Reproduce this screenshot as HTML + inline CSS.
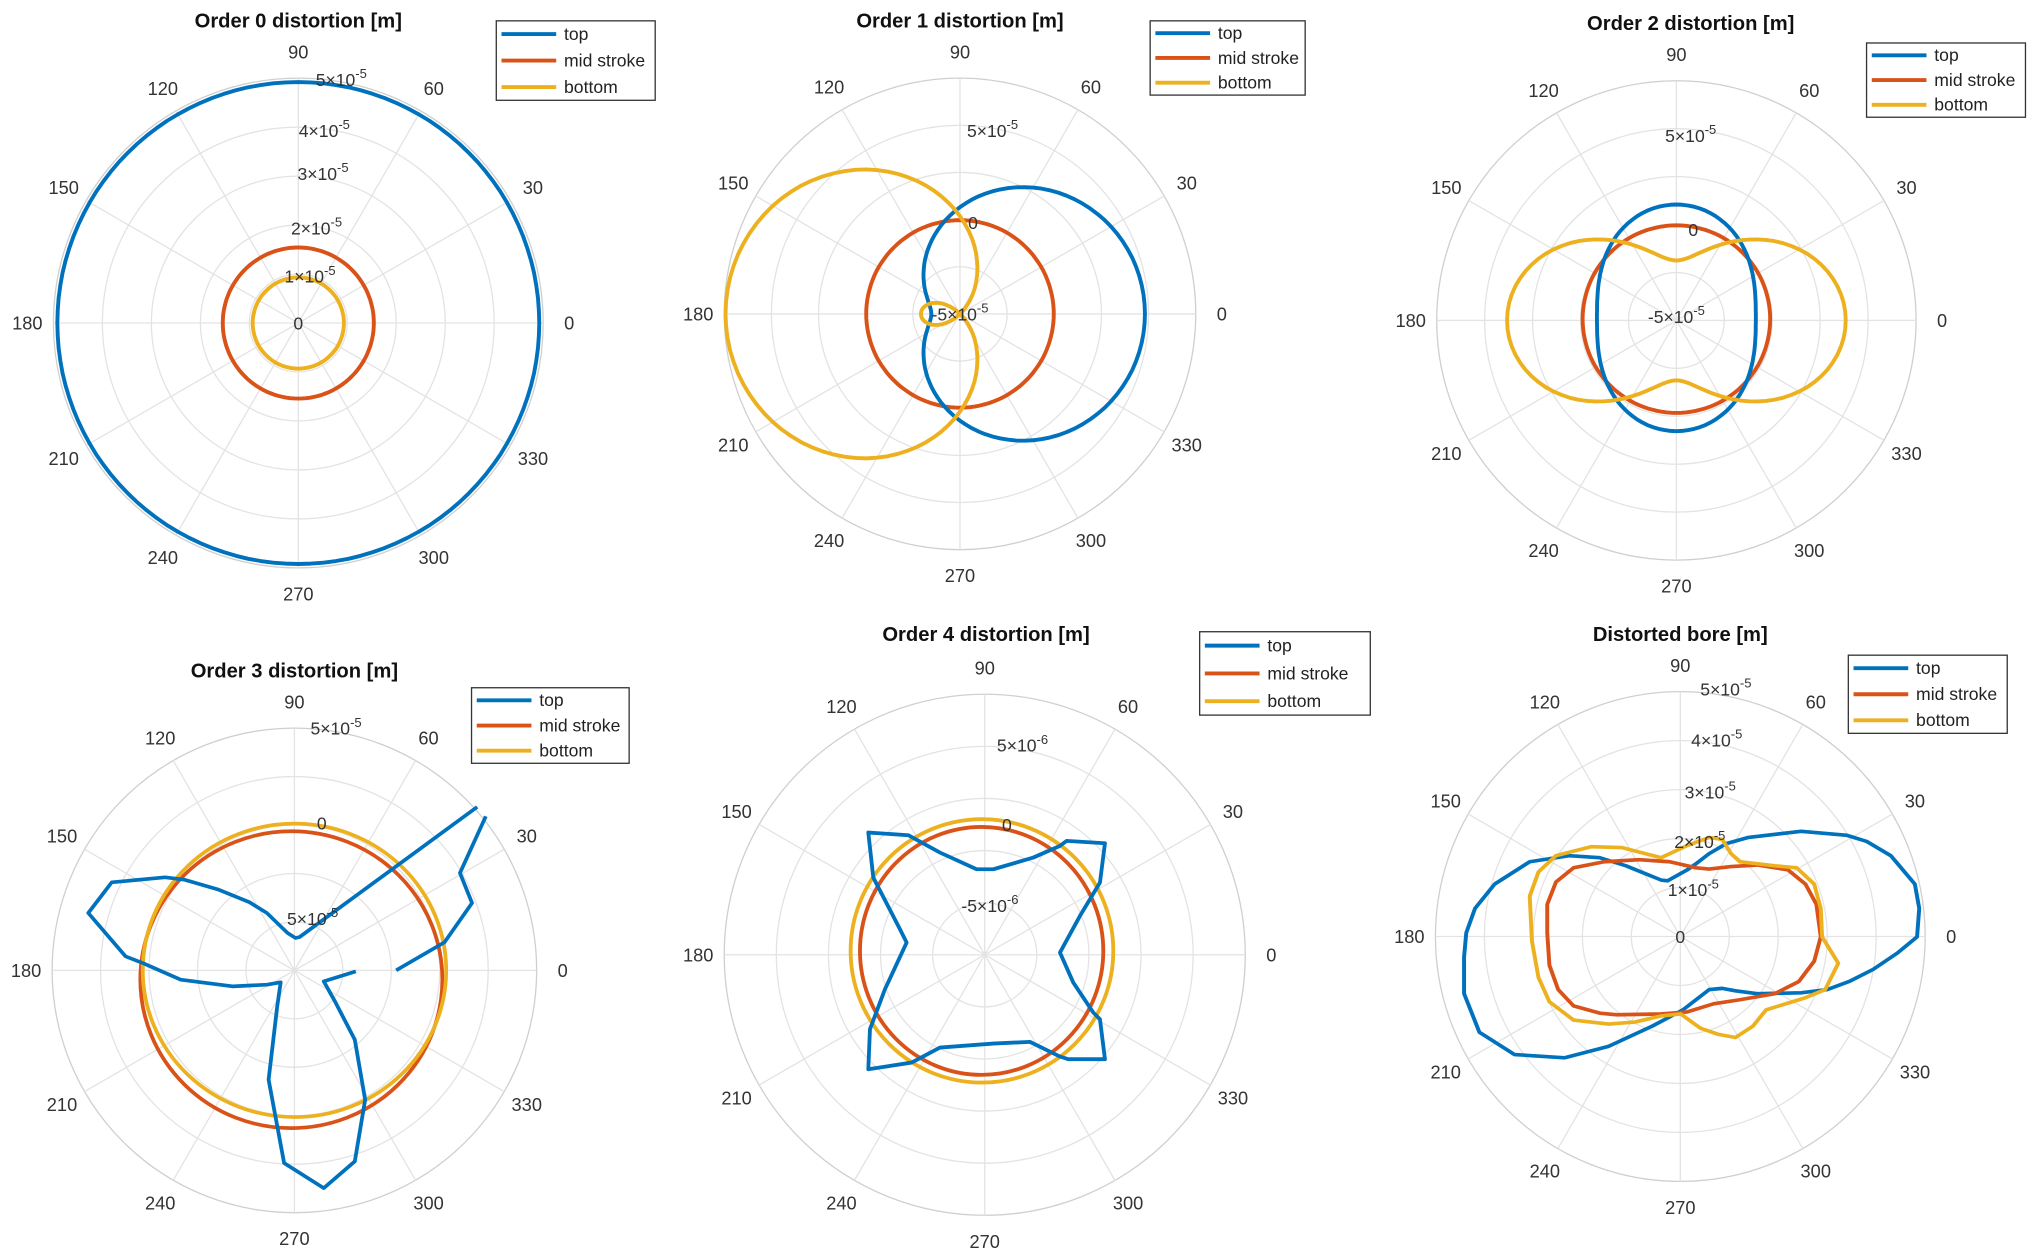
<!DOCTYPE html>
<html><head><meta charset="utf-8">
<style>
html,body{margin:0;padding:0;background:#fff;}
svg{display:block;}
text{font-family:"Liberation Sans",Arial,sans-serif;}
</style></head>
<body>
<svg id="s" width="2032" height="1255" viewBox="0 0 1560 963.5" xmlns="http://www.w3.org/2000/svg">
<rect width="1560" height="963.5" fill="#fff"/>
<g id="grid"></g>
<g id="data" fill="none" stroke-width="3" stroke-linejoin="round">

<g transform="translate(46.06,588.3) scale(0.2647,0.256)" stroke-width="11">
<path stroke="#D95319" d="M1109,640 A438,445 0 1 1 233,640 A438,445 0 1 1 1109,640 Z"/>
<path stroke="#EDB120" d="M1120,612 A440,440 0 1 1 240,612 A440,440 0 1 1 1120,612 Z"/>
<path stroke="#0072BD" d="M975,612 L1115,528 L1195,410 L1160,320 L1235,150 M1210,122 L695,512 L683,515 L660,500 L600,440 L550,408 L460,370 L360,340 L305,333 L150,348 L82,440 L190,570 L240,590 L350,640 L500,660 L600,655 L640,648 L630,720 L605,940 L650,1190 L765,1265 L855,1185 L885,1000 L855,820 L800,710 L765,645 L858,615"/>
</g>

<g transform="translate(629.5,600.8) scale(0.2559)" stroke-width="11.5">
<path stroke="#D95319" d="M850,505 A365,372 0 1 1 120,505 A365,372 0 1 1 850,505 Z"/>
<path stroke="#EDB120" d="M880,505 A394,395 0 1 1 92,505 A394,395 0 1 1 880,505 Z"/>
<path stroke="#0072BD" d="M145,150 L265,158 L360,210 L470,260 L520,260 L640,225 L720,190 L740,175 L855,182 L840,300 L780,400 L720,510 L760,600 L820,690 L840,710 L855,830 L745,830 L720,822 L630,778 L520,783 L360,795 L275,840 L145,860 L150,740 L195,620 L260,480 L240,440 L160,285 Z"/>
</g>

<g transform="translate(1040,479.3) scale(0.336,0.3116)" stroke-width="9">
<path stroke="#0072BD" d="M1285,770 L1290,700 L1280,640 L1225,570 L1170,535 L1125,520 L1020,510 L900,525 L850,540 L810,565 L780,590 L760,605 L715,632 L700,630 L620,595 L560,575 L490,570 L400,585 L320,640 L275,700 L255,760 L250,820 L250,910 L285,1005 L365,1060 L480,1068 L580,1040 L680,990 L750,950 L810,900 L840,897 L870,903 L920,910 L1020,908 L1080,900 L1130,880 L1185,850 L1240,810 Z"/>
<path stroke="#D95319" d="M1065,770 L1050,830 L1015,880 L960,910 L880,925 L820,935 L760,955 L700,960 L600,962 L560,958 L500,940 L465,900 L445,840 L440,760 L440,690 L460,635 L500,600 L570,585 L650,580 L720,585 L780,600 L810,603 L860,597 L920,593 L990,605 L1030,640 L1055,690 Z"/>
<path stroke="#EDB120" d="M1068,770 L1105,835 L1075,900 L1030,920 L940,950 L910,990 L870,1018 L830,1010 L790,995 L745,960 L700,965 L640,980 L580,985 L500,975 L445,930 L420,870 L405,780 L400,670 L420,610 L460,570 L540,548 L610,550 L700,575 L760,545 L810,525 L840,530 L860,565 L880,585 L960,595 L1010,600 L1050,640 L1065,700 Z"/>
</g>
</g>
<g id="txt"></g>
</svg>
<script>
(function(){
var NS="http://www.w3.org/2000/svg";
var grid=document.getElementById('grid'),data=document.getElementById('data'),txt=document.getElementById('txt');
function el(p,tag,a,t){var e=document.createElementNS(NS,tag);for(var k in a)e.setAttribute(k,a[k]);if(t!=null)e.textContent=t;p.appendChild(e);return e;}
var B="#0072BD",R="#D95319",Y="#EDB120";
var plots=[
 {cx:229,cy:248,r:188,title:"Order 0 distortion [m]",tx:229,ty:21,leg:[381,16,122,61]},
 {cx:737,cy:241,r:181,title:"Order 1 distortion [m]",tx:737,ty:21,leg:[883,16,119,57]},
 {cx:1287,cy:246,r:184,title:"Order 2 distortion [m]",tx:1298,ty:23,leg:[1433,33,122,57]},
 {cx:226,cy:745,r:186,title:"Order 3 distortion [m]",tx:226,ty:520,leg:[362,528,121,58]},
 {cx:756,cy:733,r:200,title:"Order 4 distortion [m]",tx:757,ty:492,leg:[921,485,131,64]},
 {cx:1290,cy:719,r:188,title:"Distorted bore [m]",tx:1290,ty:492,leg:[1419,503,122,60]}
];
plots.forEach(function(p){
 for(var k=1;k<=5;k++){el(grid,'circle',{cx:p.cx,cy:p.cy,r:p.r*k/5,fill:'none',stroke:k==5?'#cfcfcf':'#e3e3e3','stroke-width':1});}
 for(var a=0;a<180;a+=30){var t=a*Math.PI/180;el(grid,'line',{x1:p.cx-p.r*Math.cos(t),y1:p.cy+p.r*Math.sin(t),x2:p.cx+p.r*Math.cos(t),y2:p.cy-p.r*Math.sin(t),stroke:'#e3e3e3','stroke-width':1});}
 for(var a=0;a<360;a+=30){var t=a*Math.PI/180,d=p.r+20;el(txt,'text',{x:p.cx+d*Math.cos(t),y:p.cy-d*Math.sin(t)+5,'text-anchor':'middle','font-size':14,fill:'#333'},String(a));}
 el(txt,'text',{x:p.tx,y:p.ty,'text-anchor':'middle','font-size':15.5,'font-weight':'bold',fill:'#111'},p.title);
 var L=p.leg,x=L[0],y=L[1],w=L[2],h=L[3];
 el(txt,'rect',{x:x,y:y,width:w,height:h,fill:'#fff',stroke:'#333','stroke-width':1});
 [[B,'top'],[R,'mid stroke'],[Y,'bottom']].forEach(function(it,i){var yy=y+h*(i+0.5)/3;
  el(txt,'line',{x1:x+4,y1:yy,x2:x+46,y2:yy,stroke:it[0],'stroke-width':3});
  el(txt,'text',{x:x+52,y:yy+4.5,'font-size':13.5,fill:'#222'},it[1]);});
});
function sci(x,y,m,e){var t=el(txt,'text',{x:x,y:y,'text-anchor':'middle','font-size':13.5,fill:'#333'});
 if(m===null){t.textContent='0';return;}
 t.appendChild(document.createTextNode(m+'\u00d710'));var s=el(t,'tspan',{dy:-6,'font-size':10},e);}
sci(229,253,null);sci(238,217,'1','-5');sci(243,180,'2','-5');sci(248,138,'3','-5');sci(249,105,'4','-5');sci(262,66,'5','-5');
sci(747,176,null);sci(762,105,'5','-5');sci(737,246,'-5','-5');
sci(1300,181,null);sci(1298,109,'5','-5');sci(1287,248,'-5','-5');
sci(247,637,null);sci(240,710,'5','-5');sci(258,564,'5','-5');
sci(773,638,null);sci(785,577,'5','-6');sci(760,700,'-5','-6');
sci(1290,724,null);sci(1300,688,'1','-5');sci(1305,651,'2','-5');sci(1313,613,'3','-5');sci(1318,573,'4','-5');sci(1325,534,'5','-5');

function curve(cx,cy,f,col){var d='';for(var i=0;i<=360;i+=3){var t=i*Math.PI/180,r=f(t);d+=(i?'L':'M')+(cx+r*Math.cos(t)).toFixed(1)+','+(cy-r*Math.sin(t)).toFixed(1);}
 el(data,'path',{d:d+'Z',stroke:col});}
curve(229,248,function(){return 185;},B);curve(229,248,function(){return 58;},R);curve(229,248,function(){return 35;},Y);
curve(737,241,function(){return 72;},R);
curve(737,241,function(t){return 82+60*Math.cos(t);},B);
curve(737,241,function(t){return 75-105*Math.cos(t);},Y);
curve(1287,245,function(){return 72;},R);
curve(1287,244,function(t){return 74-13*Math.cos(2*t);},B);
curve(1287,246,function(t){return 88+42*Math.cos(2*t);},Y);
})();
</script>
</body></html>
